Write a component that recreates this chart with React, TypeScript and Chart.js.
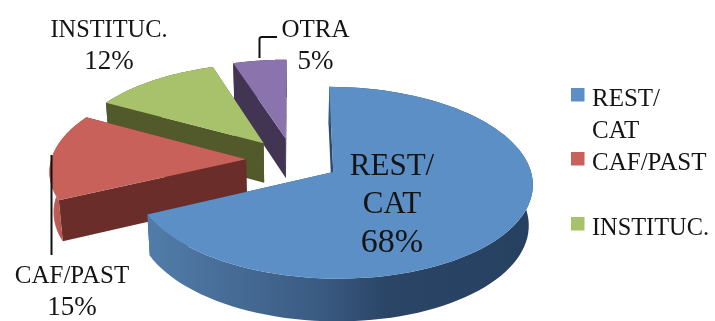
import React, { useEffect, useRef } from "react";
import { Chart, registerables } from "chart.js";

Chart.register(...registerables);

const categories = ["REST/CAT", "CAF/PAST", "INSTITUC.", "OTRA"];
const shares = [68, 15, 12, 5];
const topColors = ["#5b8fc6", "#c9615b", "#a8c16b", "#8b73ad"];
const cutWallColors = ["#2d4a6e", "#6a2d2a", "#525a2b", "#413553"];
const legendEntries = [["REST/", "CAT"], ["CAF/PAST"], ["INSTITUC."]];

const SERIF = '"Liberation Serif", serif';
const TILT = 0.472;
const PERSPECTIVE = 0.11;
const EXPLODE = 0.241;
const DEPTH = 40;
const INK = "#141414";

const legendRows = [
  { box: 88, baselines: [106, 138] },
  { box: 152, baselines: [170] },
  { box: 217, baselines: [235] },
];

// Slice captions: name lines, then the share in slightly larger figures.
function captionFor(index: number) {
  const pct = `${shares[index]}%`;
  switch (index) {
    case 0:
      return { size: 31, pctSize: 34, x: 392, names: [["REST/", 175], ["CAT", 213]], pct, pctY: 252 };
    case 1:
      return { size: 25, pctSize: 27, x: 72, names: [["CAF/PAST", 283]], pct, pctY: 315 };
    case 2:
      return { size: 25, pctSize: 27, x: 109, names: [["INSTITUC.", 37]], pct, pctY: 69 };
    default:
      return { size: 25, pctSize: 27, x: 315.5, names: [["OTRA", 37]], pct, pctY: 69 };
  }
}

const tiltedPie = {
  id: "tiltedPie",
  beforeDatasetsDraw(chart: any) {
    const { ctx } = chart;
    const arcs = chart.getDatasetMeta(0).data;
    const { x: cx, y: cy, outerRadius: R } = arcs[0];

    // Maps a point on the pie plane (radius = 1) to the screen; "low" is the underside.
    const project = (U: number, V: number, low = false) => {
      const s = 1 / (1 - PERSPECTIVE * V);
      const px = R * U * s;
      const py = R * TILT * V * s;
      return low
        ? [cx + px * 0.983, cy + py + DEPTH * Math.sqrt(s)]
        : [cx + px, cy + py];
    };

    const tracePolygon = (points: number[][]) => {
      ctx.beginPath();
      points.forEach((p, i) => (i ? ctx.lineTo(p[0], p[1]) : ctx.moveTo(p[0], p[1])));
      ctx.closePath();
    };

    const wallPaint = (index: number) => {
      if (index === 0) {
        const g = ctx.createLinearGradient(150, 0, 533, 0);
        g.addColorStop(0, "#517ca9");
        g.addColorStop(0.45, "#3a5a81");
        g.addColorStop(0.62, "#2a4566");
        g.addColorStop(1, "#264060");
        return g;
      }
      if (index === 1) {
        const g = ctx.createLinearGradient(50, 0, 70, 0);
        g.addColorStop(0, "#c9615b");
        g.addColorStop(1, "#a84e49");
        return g;
      }
      return cutWallColors[index];
    };

    ctx.save();
    // Rear slices first so the nearer ones overlap them.
    for (let i = arcs.length - 1; i >= 0; i--) {
      const arc = arcs[i];
      const mid = (arc.startAngle + arc.endAngle) / 2;
      const ox = Math.cos(mid) * EXPLODE;
      const oy = Math.sin(mid) * EXPLODE;
      const rim: number[][] = [];
      const steps = 96;
      for (let k = 0; k <= steps; k++) {
        const a = arc.startAngle + ((arc.endAngle - arc.startAngle) * k) / steps;
        rim.push([ox + Math.cos(a), oy + Math.sin(a)]);
      }
      const top = (p: number[]) => project(p[0], p[1]);
      const low = (p: number[]) => project(p[0], p[1], true);
      const first = rim[0];
      const last = rim[rim.length - 1];
      const apex = [ox, oy];

      ctx.fillStyle = cutWallColors[i];
      tracePolygon([top(first), top(apex), low(apex), low(first)]);
      ctx.fill();
      tracePolygon([top(last), top(apex), low(apex), low(last)]);
      ctx.fill();

      ctx.fillStyle = wallPaint(i);
      tracePolygon([...rim.map(top), ...rim.slice().reverse().map(low)]);
      ctx.fill();

      ctx.fillStyle = topColors[i];
      tracePolygon([top(apex), ...rim.map(top)]);
      ctx.fill();
    }
    ctx.restore();
    return false;
  },
  // Returning false above skips the afterDatasetsDraw hook, so text goes here.
  afterDraw(chart: any) {
    const { ctx } = chart;
    ctx.save();
    ctx.fillStyle = INK;
    ctx.textBaseline = "alphabetic";

    shares.forEach((_, i) => {
      const c = captionFor(i);
      ctx.textAlign = "center";
      ctx.font = `${c.size}px ${SERIF}`;
      c.names.forEach(([text, y]) => ctx.fillText(String(text), c.x, Number(y), 117));
      ctx.font = `${c.pctSize}px ${SERIF}`;
      ctx.fillText(c.pct, c.x, c.pctY);
    });

    // Leader lines
    ctx.strokeStyle = "#111111";
    ctx.lineWidth = 2;
    ctx.beginPath();
    ctx.moveTo(51.5, 155);
    ctx.lineTo(51.5, 255);
    ctx.moveTo(259.5, 58);
    ctx.lineTo(259.5, 39);
    ctx.quadraticCurveTo(259.5, 37, 262, 37);
    ctx.lineTo(277, 37);
    ctx.stroke();

    // Legend
    legendEntries.forEach((lines, i) => {
      const row = legendRows[i];
      ctx.fillStyle = topColors[i];
      ctx.fillRect(571, row.box, 13.5, 13.5);
      ctx.fillStyle = INK;
      ctx.font = `25px ${SERIF}`;
      ctx.textAlign = "left";
      lines.forEach((line, k) => ctx.fillText(line, 592, row.baselines[k], 117));
    });
    ctx.restore();
  },
};

export default function App() {
  const canvasRef = useRef<HTMLCanvasElement>(null);

  useEffect(() => {
    document.body.style.margin = "0";
    document.body.style.background = "#ffffff";
    const chart = new Chart(canvasRef.current!, {
      type: "pie",
      data: {
        labels: categories,
        datasets: [{ data: shares, backgroundColor: topColors, borderWidth: 0 }],
      },
      options: {
        animation: false,
        responsive: false,
        radius: 195,
        layout: { padding: { right: 129, bottom: 1 } },
        plugins: { legend: { display: false }, tooltip: { enabled: false } },
      },
      plugins: [tiltedPie],
    } as any);
    return () => chart.destroy();
  }, []);

  return (
    <canvas
      ref={canvasRef}
      width={715}
      height={321}
      style={{ display: "block", width: 715, height: 321 }}
    />
  );
}
